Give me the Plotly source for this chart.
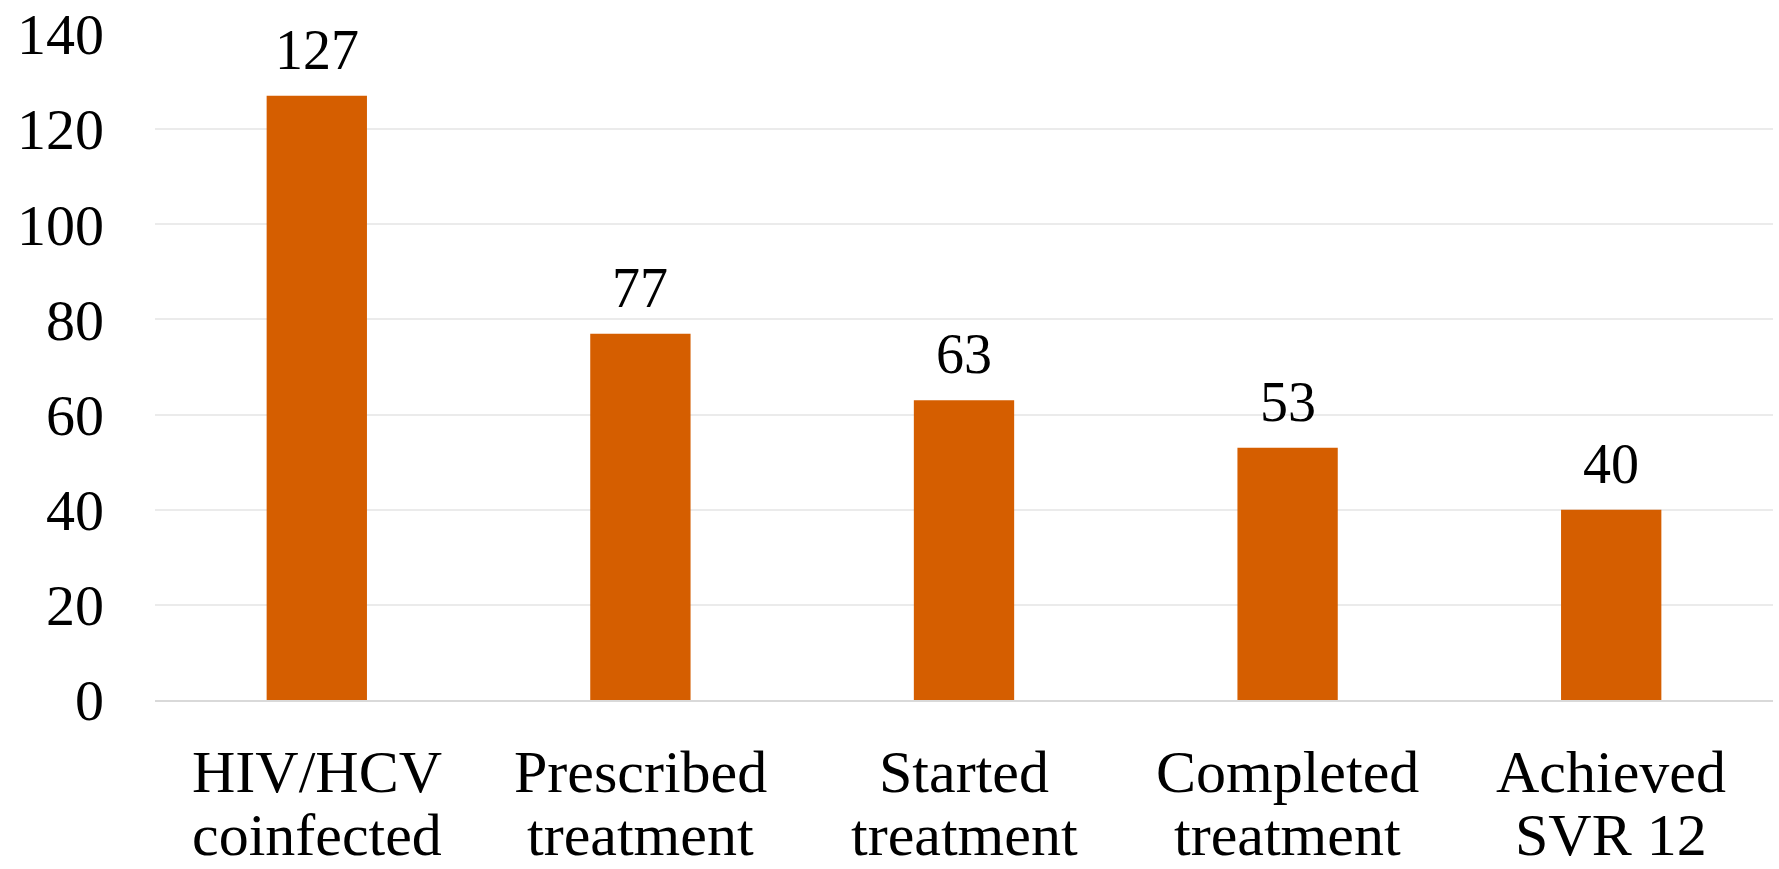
import plotly.graph_objects as go

label_top = ["HIV/HCV", "Prescribed", "Started", "Completed", "Achieved"]
label_bottom = ["coinfected", "treatment", "treatment", "treatment", "SVR 12"]
categories = [f"{a} {b}" for a, b in zip(label_top, label_bottom)]
values = [127, 77, 63, 53, 40]
y_ticks = [0, 20, 40, 60, 80, 100, 120, 140]

BAR_COLOR = "#D55E00"
FONT = "Liberation Serif"

fig = go.Figure(
    go.Bar(
        x=categories,
        y=values,
        marker=dict(color=BAR_COLOR, line=dict(width=0)),
        hoverinfo="skip",
    )
)

# value labels above each bar
for c, v in zip(categories, values):
    fig.add_annotation(
        x=c, y=v, text=str(v), showarrow=False,
        yanchor="bottom", yshift=13,
        font=dict(family=FONT, size=56, color="#000000"),
    )

# two-line category labels under the axis
for c, top, bottom in zip(categories, label_top, label_bottom):
    for txt, shift in ((top, -72), (bottom, -135)):
        fig.add_annotation(
            x=c, xref="x", y=0, yref="paper", yanchor="middle", yshift=shift,
            text=txt, showarrow=False,
            font=dict(family=FONT, size=60, color="#000000"),
        )

fig.update_layout(
    width=1779, height=869,
    margin=dict(l=155, r=6, t=34, b=169),
    paper_bgcolor="white", plot_bgcolor="white",
    bargap=0.69,
    showlegend=False,
    font=dict(family=FONT, size=58, color="#000000"),
)
fig.update_xaxes(
    showgrid=False, showline=True, linecolor="#D9D9D9", linewidth=2,
    ticks="", showticklabels=False, automargin=False,
)
fig.update_yaxes(
    range=[0, 140], tickvals=y_ticks, showgrid=True, gridcolor="#EBEBEB", gridwidth=1.5,
    zeroline=False, showline=False, ticks="", ticklabelstandoff=50, automargin=False,
    tickfont=dict(family=FONT, size=58, color="#000000"),
)

fig.write_html("out.html")
